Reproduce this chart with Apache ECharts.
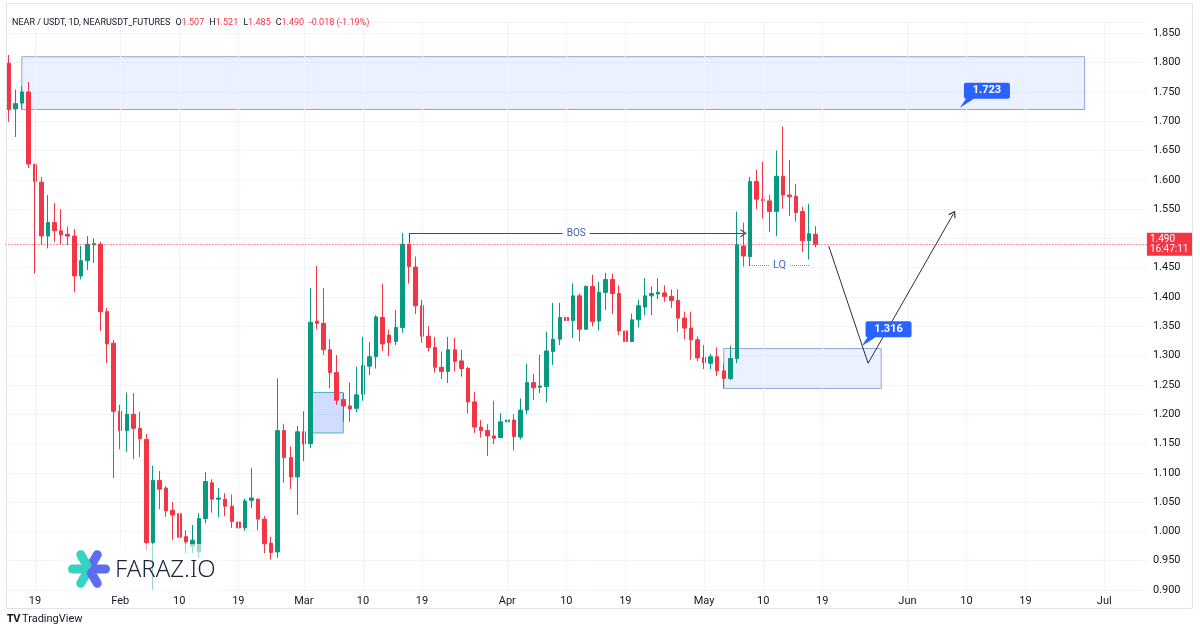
<!DOCTYPE html>
<html>
<head>
<meta charset="utf-8">
<title>NEAR / USDT 1D</title>
<script src="https://cdn.jsdelivr.net/npm/echarts@6/dist/echarts.min.js"></script>
<style>
  html, body { margin: 0; padding: 0; background: #fff; }
  #chart { width: 1200px; height: 630px; }
</style>
</head>
<body>
<div id="chart"></div>
<script>
// daily candles, first one on Jan 15
const firstDay = Date.UTC(2025, 0, 15);
const dayCount = 174;
const monthNames = ['Jan', 'Feb', 'Mar', 'Apr', 'May', 'Jun', 'Jul', 'Aug', 'Sep', 'Oct', 'Nov', 'Dec'];
const labelDays = [1, 10, 19];

const opens = [
  1.799, 1.721, 1.731, 1.750, 1.626, 1.596, 1.504, 1.527, 1.513, 1.507,
  1.504, 1.436, 1.462, 1.489, 1.490, 1.375, 1.321, 1.205, 1.172, 1.200,
  1.176, 1.157, 0.981, 1.087, 1.074, 1.036, 1.030, 0.991, 0.975, 0.965,
  1.022, 1.083, 1.055, 1.055, 1.043, 1.016, 1.006, 1.053, 1.055, 1.021,
  0.980, 0.965, 1.172, 1.126, 1.093, 1.170, 1.150, 1.359, 1.355, 1.310,
  1.271, 1.225, 1.214, 1.210, 1.234, 1.282, 1.298, 1.365, 1.335, 1.324,
  1.348, 1.490, 1.451, 1.385, 1.333, 1.314, 1.280, 1.273, 1.310, 1.291,
  1.278, 1.221, 1.178, 1.172, 1.163, 1.160, 1.187, 1.190, 1.161, 1.207,
  1.254, 1.246, 1.247, 1.307, 1.328, 1.365, 1.360, 1.402, 1.345, 1.418,
  1.359, 1.408, 1.430, 1.406, 1.342, 1.324, 1.361, 1.383, 1.402, 1.405,
  1.407, 1.401, 1.394, 1.364, 1.347, 1.327, 1.297, 1.287, 1.298, 1.274,
  1.261, 1.295, 1.487, 1.469, 1.597, 1.567, 1.564, 1.546, 1.606, 1.574,
  1.572, 1.546, 1.496, 1.507
];
const closes = [
  1.720, 1.730, 1.750, 1.627, 1.597, 1.504, 1.527, 1.513, 1.506, 1.504,
  1.436, 1.462, 1.490, 1.491, 1.375, 1.320, 1.205, 1.172, 1.200, 1.176,
  1.158, 0.981, 1.087, 1.072, 1.035, 1.028, 0.990, 0.982, 0.985, 1.022,
  1.085, 1.055, 1.057, 1.043, 1.017, 1.006, 1.052, 1.057, 1.021, 0.979,
  0.964, 1.172, 1.126, 1.093, 1.170, 1.149, 1.357, 1.355, 1.310, 1.271,
  1.224, 1.214, 1.209, 1.233, 1.283, 1.298, 1.366, 1.320, 1.322, 1.348,
  1.490, 1.452, 1.385, 1.333, 1.314, 1.280, 1.273, 1.310, 1.290, 1.278,
  1.221, 1.178, 1.172, 1.163, 1.159, 1.187, 1.190, 1.162, 1.207, 1.254,
  1.245, 1.248, 1.308, 1.328, 1.365, 1.360, 1.402, 1.345, 1.418, 1.358,
  1.408, 1.430, 1.406, 1.342, 1.324, 1.361, 1.385, 1.402, 1.406, 1.408,
  1.401, 1.394, 1.364, 1.347, 1.327, 1.296, 1.288, 1.298, 1.274, 1.261,
  1.295, 1.489, 1.470, 1.597, 1.567, 1.564, 1.546, 1.606, 1.574, 1.571,
  1.544, 1.496, 1.508, 1.490
];
const lows = [
  1.699, 1.673, 1.720, 1.620, 1.440, 1.489, 1.483, 1.494, 1.490, 1.489,
  1.408, 1.430, 1.446, 1.458, 1.342, 1.287, 1.091, 1.140, 1.136, 1.123,
  1.127, 0.968, 0.900, 1.038, 1.025, 0.985, 0.980, 0.963, 0.963, 0.955,
  1.014, 1.032, 1.024, 1.026, 1.006, 0.981, 1.001, 1.040, 1.002, 0.963,
  0.952, 0.955, 1.083, 1.072, 1.028, 1.120, 1.142, 1.345, 1.301, 1.244,
  1.216, 1.187, 1.187, 1.203, 1.223, 1.267, 1.278, 1.308, 1.299, 1.318,
  1.339, 1.423, 1.371, 1.322, 1.307, 1.271, 1.260, 1.253, 1.273, 1.264,
  1.201, 1.168, 1.160, 1.129, 1.149, 1.159, 1.182, 1.138, 1.157, 1.200,
  1.224, 1.236, 1.220, 1.284, 1.318, 1.343, 1.330, 1.324, 1.344, 1.350,
  1.343, 1.378, 1.371, 1.335, 1.321, 1.323, 1.348, 1.369, 1.369, 1.396,
  1.392, 1.381, 1.341, 1.328, 1.293, 1.290, 1.277, 1.277, 1.265, 1.244,
  1.258, 1.287, 1.452, 1.453, 1.550, 1.534, 1.511, 1.504, 1.551, 1.538,
  1.529, 1.477, 1.464, 1.485
];
const highs = [
  1.813, 1.754, 1.760, 1.767, 1.628, 1.605, 1.574, 1.560, 1.550, 1.520,
  1.516, 1.487, 1.504, 1.500, 1.494, 1.381, 1.327, 1.216, 1.237, 1.236,
  1.204, 1.166, 1.112, 1.103, 1.077, 1.050, 1.034, 1.002, 1.011, 1.031,
  1.101, 1.089, 1.074, 1.065, 1.063, 1.025, 1.056, 1.108, 1.056, 1.026,
  0.991, 1.261, 1.183, 1.145, 1.180, 1.205, 1.415, 1.453, 1.415, 1.328,
  1.301, 1.236, 1.254, 1.281, 1.332, 1.323, 1.369, 1.422, 1.344, 1.378,
  1.509, 1.491, 1.469, 1.395, 1.350, 1.332, 1.307, 1.332, 1.330, 1.310,
  1.281, 1.238, 1.190, 1.183, 1.223, 1.202, 1.228, 1.200, 1.227, 1.286,
  1.269, 1.301, 1.341, 1.390, 1.390, 1.395, 1.423, 1.406, 1.420, 1.438,
  1.426, 1.441, 1.440, 1.420, 1.388, 1.372, 1.395, 1.432, 1.418, 1.432,
  1.420, 1.413, 1.413, 1.375, 1.375, 1.333, 1.318, 1.303, 1.314, 1.286,
  1.317, 1.546, 1.527, 1.605, 1.617, 1.631, 1.574, 1.650, 1.691, 1.634,
  1.593, 1.554, 1.559, 1.521
];

// drawings on the chart (date, price)
const supplyZone = [['2025-01-17', 1.810], ['2025-06-28', 1.720]];
const gapZone = [['2025-03-02', 1.237], ['2025-03-07', 1.168]];
const demandZone = [['2025-05-04', 1.312], ['2025-05-28', 1.244]];
const bosLine = [['2025-03-17', 1.509], ['2025-05-07', 1.509]];
const bosTick = [['2025-03-17', 1.509], ['2025-03-17', 1.492]];
const lqLine = [['2025-05-08', 1.454], ['2025-05-17', 1.454]];
const pathPoints = [['2025-05-20', 1.487], ['2025-05-26', 1.287], ['2025-06-08', 1.542]];
const callouts = [['2025-06-09', 1.723], ['2025-05-25', 1.316]];
const countdown = '16:47:11';

const dates = [];
for (let i = 0; i < dayCount; i++) {
    dates.push(new Date(firstDay + i * 864e5).toISOString().slice(0, 10));
}
const gridDates = dates.filter(d => labelDays.indexOf(+d.slice(8)) >= 0);

const last = opens.length - 1;
const lastClose = closes[last];
const change = lastClose - closes[last - 1];
const changePct = change / closes[last - 1] * 100;

const UP = '#089981';
const DOWN = '#f23645';
const FONT = 'Roboto, "Noto Sans", sans-serif';
const chevron = 'path://M5,0 L10,7 L9,8 L5,2.4 L1,8 L0,7 Z';
const callShape = 'path://M4,2 Q4,0 6,0 L48,0 Q50,0 50,2 L50,14 Q50,16 48,16 L14,16 L0,25 L6,16 Q4,16 4,14 Z';

const chart = echarts.init(document.getElementById('chart'));

const headStyle = { fontFamily: FONT, fontSize: 9, fontWeight: 'normal', color: '#131722' };

const option = {
    animation: false,
    backgroundColor: '#ffffff',
    title: {
        left: 7,
        top: 9,
        text: '{t|NEAR / USDT, 1D, NEARUSDT_FUTURES} {k|O}{v|' + opens[last].toFixed(3) + '} {k|H}{v|' + highs[last].toFixed(3) +
            '} {k|L}{v|' + lows[last].toFixed(3) + '} {k|C}{v|' + lastClose.toFixed(3) + '} {v|' +
            change.toFixed(3) + ' (' + changePct.toFixed(2) + '%)}',
        textStyle: {
            fontWeight: 'normal',
            rich: {
                t: headStyle,
                k: headStyle,
                v: Object.assign({}, headStyle, { color: DOWN })
            }
        }
    },
    grid: { left: 5.42, right: 53.08, top: 22, bottom: 40 },
    xAxis: {
        type: 'category',
        data: dates,
        boundaryGap: true,
        axisLine: { show: false },
        axisTick: { show: false },
        splitLine: { show: false },
        axisLabel: {
            color: '#131722',
            fontFamily: FONT,
            fontSize: 11,
            margin: 6,
            interval: function (index, value) {
                return labelDays.indexOf(+value.slice(8)) >= 0;
            },
            formatter: function (value) {
                const day = +value.slice(8);
                return day === 1 ? monthNames[+value.slice(5, 7) - 1] : String(day);
            }
        }
    },
    yAxis: {
        type: 'value',
        position: 'right',
        min: 0.9,
        max: 1.8693,
        interval: 0.05,
        axisLine: { show: false },
        axisTick: { show: false },
        axisLabel: {
            showMaxLabel: false,
            color: '#131722',
            fontFamily: FONT,
            fontSize: 11,
            margin: 6,
            formatter: v => v.toFixed(3)
        },
        splitLine: { lineStyle: { color: '#f0f3fa', width: 1 } }
    },
    series: [
        {
            // vertical grid lines at the labelled days
            type: 'line',
            data: [],
            z: 0,
            markLine: {
                silent: true,
                symbol: ['none', 'none'],
                label: { show: false },
                lineStyle: { color: '#f0f3fa', width: 1, type: 'solid' },
                data: gridDates.map(d => ({ xAxis: d }))
            }
        },
        {
            // last price line with its axis tag
            type: 'line',
            data: [],
            clip: false,
            z: 5,
            markLine: {
                silent: true,
                symbol: ['none', 'none'],
                lineStyle: { color: DOWN, width: 1, type: [1, 2] },
                label: {
                    show: true, position: 'end', distance: 0,
                    formatter: lastClose.toFixed(3) + '\n' + countdown,
                    color: '#fff', backgroundColor: DOWN, fontFamily: FONT, fontSize: 10,
                    lineHeight: 10.5, padding: [1, 4, 1, 3], align: 'left', verticalAlign: 'middle'
                },
                data: [{ yAxis: lastClose }]
            }
        },
        {
            type: 'candlestick',
            barWidth: 4,
            z: 3,
            data: opens.map((o, i) => [o, closes[i], lows[i], highs[i]]),
            itemStyle: {
                color: UP, color0: DOWN,
                borderColor: UP, borderColor0: DOWN,
                borderWidth: 1
            },
            markArea: {
                silent: true,
                data: [
                    [{ coord: supplyZone[0], itemStyle: { color: 'rgba(41,98,255,0.09)', borderColor: '#8ea4da', borderWidth: 1 } }, { coord: supplyZone[1] }],
                    [{ coord: gapZone[0], itemStyle: { color: 'rgba(41,98,255,0.22)', borderColor: '#52b0c6', borderWidth: 1 } }, { coord: gapZone[1] }],
                    [{ coord: demandZone[0], itemStyle: { color: 'rgba(41,98,255,0.09)', borderColor: '#8ea4da', borderWidth: 1 } }, { coord: demandZone[1] }]
                ]
            },
            markLine: {
                silent: true,
                symbol: ['none', 'none'],
                symbolSize: [8, 7],
                data: [
                    [
                        { coord: bosLine[0], lineStyle: { color: '#4a4a4a', width: 1, type: 'solid' },
                          label: { show: true, position: 'middle', distance: 0, verticalAlign: 'middle', formatter: 'BOS', color: '#3e5fa8', fontFamily: FONT, fontSize: 10, backgroundColor: '#fff', padding: [1, 4] } },
                        { coord: bosLine[1], symbol: chevron }
                    ],
                    [
                        { coord: bosTick[0], lineStyle: { color: '#4a4a4a', width: 1, type: 'solid' }, label: { show: false } },
                        { coord: bosTick[1] }
                    ],
                    [
                        { coord: lqLine[0], lineStyle: { color: '#8a8d96', width: 1, type: 'dotted' },
                          label: { show: true, position: 'middle', distance: 0, verticalAlign: 'middle', formatter: 'LQ', color: '#3e6ad6', fontFamily: FONT, fontSize: 11, backgroundColor: '#fff', padding: [1, 4] } },
                        { coord: lqLine[1] }
                    ],
                    [
                        { coord: pathPoints[0], lineStyle: { color: '#2a2e39', width: 1, type: 'solid' }, label: { show: false } },
                        { coord: pathPoints[1] }
                    ],
                    [
                        { coord: pathPoints[1], lineStyle: { color: '#2a2e39', width: 1, type: 'solid' }, label: { show: false } },
                        { coord: pathPoints[2], symbol: chevron }
                    ]
                ]
            },
            markPoint: {
                silent: true,
                symbol: callShape,
                symbolSize: [50, 25],
                symbolOffset: [25, -12.5],
                symbolKeepAspect: false,
                itemStyle: { color: '#2962ff' },
                label: {
                    show: true,
                    position: 'inside',
                    offset: [2, -4.5],
                    color: '#fff',
                    fontFamily: FONT,
                    fontSize: 11,
                    fontWeight: 'bold',
                    formatter: p => p.value.toFixed(3)
                },
                data: callouts.map(c => ({ coord: c, value: c[1] }))
            }
        }
    ],
    graphic: [
        { type: 'rect', shape: { x: 6.5, y: 3.5, width: 1186, height: 605 }, style: { fill: 'none', stroke: '#e0e3eb', lineWidth: 1 }, silent: true, z: 50 },
        { type: 'rect', shape: { x: 62, y: 544, width: 160, height: 47 }, style: { fill: 'rgba(255,255,255,0.6)' }, silent: true, z: 100 }
    ].concat([0, 60, 120, 180, 240, 300].map(a => ({
        type: 'rect',
        x: 89, y: 569,
        rotation: a * Math.PI / 180,
        shape: { x: 0, y: -4.5, width: 21, height: 9, r: 4.5 },
        style: { fill: (a === 0 || a === 60 || a === 300) ? '#5d6cf2' : '#36d3c3' },
        silent: true,
        z: 101
    }))).concat([
        { type: 'text', x: 115, y: 570, style: { text: 'FARAZ.IO', font: '300 24px "Noto Sans"', fill: '#1d2540', verticalAlign: 'middle' }, silent: true, z: 101 },
        { type: 'text', x: 7, y: 619, style: { text: 'TV', font: 'bold 11px "Noto Sans"', fill: '#131722', verticalAlign: 'middle' }, silent: true, z: 101 },
        { type: 'text', x: 22, y: 619, style: { text: 'TradingView', font: '11px Roboto', fill: '#131722', verticalAlign: 'middle' }, silent: true, z: 101 }
    ])
};

chart.setOption(option);

window.addEventListener('resize', function () {
    chart.resize();
});
</script>
</body>
</html>
